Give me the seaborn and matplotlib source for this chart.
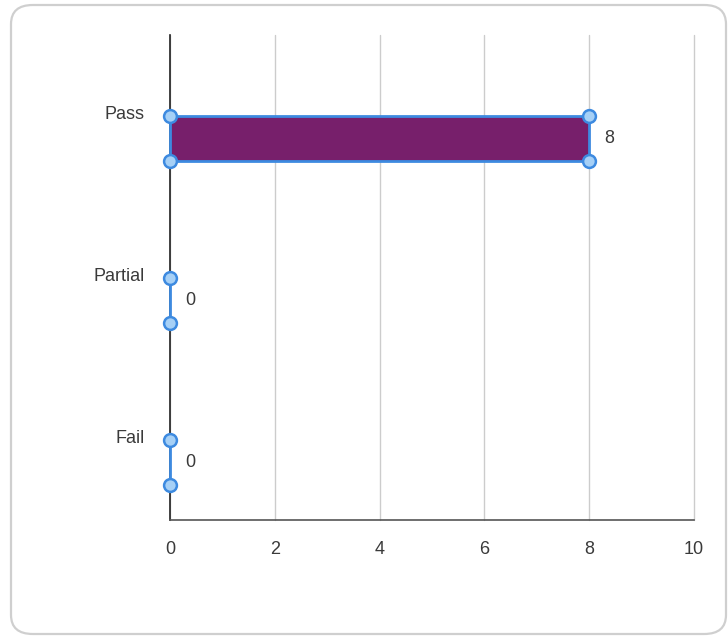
import matplotlib
matplotlib.use("Agg")
import matplotlib.pyplot as plt
from matplotlib.patches import FancyBboxPatch
import seaborn as sns
import pandas as pd

# Results summary
categories = ["Pass", "Partial", "Fail"]
counts = [8, 0, 0]
x_ticks = [0, 2, 4, 6, 8, 10]

sns.set_theme(style="white")
plt.rcParams["font.family"] = ["Liberation Sans Narrow", "Liberation Sans", "DejaVu Sans"]

BAR_FILL = "#771f6b"
EDGE_BLUE = "#3d8ae0"
HANDLE_FILL = "#a6d0f6"
TEXT = "#3a3a3a"

df = pd.DataFrame({"result": categories, "count": counts})

fig = plt.figure(figsize=(7.28, 6.37), dpi=100)
fig.patch.set_facecolor("white")

# Card outline around the chart
card = FancyBboxPatch((11 / 728, 3 / 637), 715 / 728, 629 / 637,
                      boxstyle="round,pad=0,rounding_size=0.03",
                      transform=fig.transFigure, facecolor="none",
                      edgecolor="#cfcfcf", linewidth=1.6, zorder=-1)
fig.patches.append(card)

ax = fig.add_axes([170 / 728, 117 / 637, 524 / 728, 485 / 637])
ax.set_facecolor("none")

bar_h = 0.28
sns.barplot(data=df, x="count", y="result", orient="h", ax=ax,
            width=bar_h, color=BAR_FILL, saturation=1,
            edgecolor=EDGE_BLUE, linewidth=2.0, zorder=3)

ax.set_xlim(x_ticks[0], x_ticks[-1])
ax.set_ylim(2.355, -0.64)
ax.set_xticks(x_ticks)
ax.set_xticklabels([str(t) for t in x_ticks])
ax.grid(axis="x", color="#cccccc", linewidth=1.0, zorder=0)
ax.grid(axis="y", visible=False)
for gl in ax.get_xgridlines():
    gl.set_clip_on(False)

# Category labels sit level with the top edge of each bar
ax.set_yticks([i - bar_h / 2 - 0.02 for i in range(len(categories))])
ax.set_yticklabels(categories)
ax.tick_params(axis="y", length=0, pad=18, labelsize=13, labelcolor=TEXT)
ax.tick_params(axis="x", length=0, pad=15, labelsize=13, labelcolor=TEXT)
ax.set_xlabel("")
ax.set_ylabel("")

for side in ("top", "right"):
    ax.spines[side].set_visible(False)
ax.spines["left"].set_color("#222222")
ax.spines["left"].set_linewidth(1.2)
ax.spines["left"].set_zorder(2)
ax.spines["bottom"].set_color("#555555")
ax.spines["bottom"].set_linewidth(1.2)

# Selection handles on each bar's corners, plus value labels
for patch, val in zip(ax.patches, counts):
    patch.set_clip_on(False)
    y0 = patch.get_y()
    y1 = y0 + patch.get_height()
    x0 = patch.get_x()
    x1 = x0 + patch.get_width()
    xs = [x0, x0] if x1 == x0 else [x0, x0, x1, x1]
    ys = [y0, y1] if x1 == x0 else [y0, y1, y0, y1]
    ax.scatter(xs, ys, s=85, facecolor=HANDLE_FILL, edgecolor=EDGE_BLUE,
               linewidth=1.8, zorder=5, clip_on=False)
    ax.annotate(f"{val}", xy=(x1, (y0 + y1) / 2), xytext=(11, 0),
                textcoords="offset points", ha="left", va="center",
                fontsize=13, color=TEXT)

fig.savefig("out.png", dpi=100, facecolor="white")
